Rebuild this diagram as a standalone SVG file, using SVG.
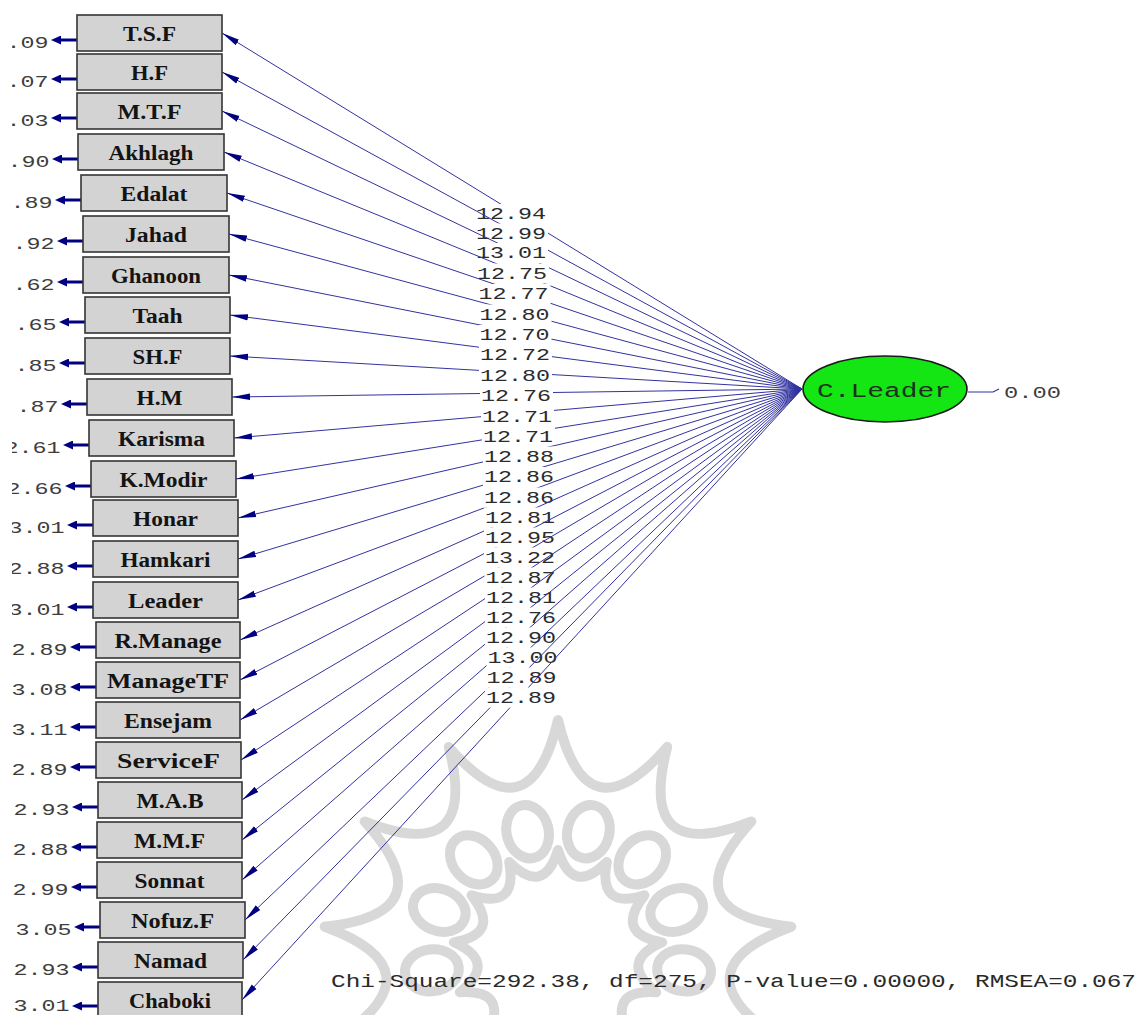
<svg xmlns="http://www.w3.org/2000/svg" width="1139" height="1015" viewBox="0 0 1139 1015">
<style>
.box{fill:#d3d3d3;stroke:#353535;stroke-width:1.6}
.bt{font-family:"Liberation Serif",serif;font-weight:bold;font-size:20px;fill:#141414;text-anchor:middle}
.pl{stroke:#3232a0;stroke-width:1;fill:none}
.lb{fill:#ffffff}
.num{font-family:"Liberation Mono",monospace;font-size:16px;fill:#2c2c2c}
.en{font-family:"Liberation Mono",monospace;font-size:16px;fill:#3e3e3e}
.ea{stroke:#000080;stroke-width:3}
.wm{fill:none;stroke:#d8d8d8;stroke-width:10;stroke-linejoin:round}
</style>
<defs>
<marker id="ah" markerUnits="userSpaceOnUse" markerWidth="18" markerHeight="8" refX="18" refY="4" orient="auto"><path d="M0,0.8 L18,4 L0,7.2 z" fill="#000080"/></marker>
<marker id="eh" markerUnits="userSpaceOnUse" markerWidth="10" markerHeight="9" refX="5" refY="4.5" orient="auto"><path d="M0,0 L10,4.5 L0,9 z" fill="#000080"/></marker>
<clipPath id="lc"><rect x="12" y="0" width="300" height="1015"/></clipPath>
</defs>
<rect width="1139" height="1015" fill="#ffffff"/>
<g id="watermark">
<path class="wm" d="M777.7,1038.3 Q675.1,969.2 791.3,926.7 Q668.3,913.2 751.4,821.5 Q636.2,866.7 667.2,746.9 Q586.3,840.4 558,720 Q529.7,840.4 448.8,746.9 Q479.8,866.7 364.6,821.5 Q447.7,913.2 324.7,926.7 Q440.9,969.2 338.3,1038.3"/>
<path class="wm" d="M558,850 Q543.6,896.7 509.2,862 Q518.2,910.1 471.6,895.3 Q501.9,933.7 453.8,942.3 Q498.4,962.2 459.8,992.2 Q508.6,989.1 488.4,1033.6 Q530.1,1008.1 532.9,1056.9 Q558,1015 583.1,1056.9 Q585.9,1008.1 627.6,1033.6 Q607.4,989.1 656.2,992.2 Q617.6,962.2 662.2,942.3 Q614.1,933.7 644.4,895.3 Q597.8,910.1 606.8,862 Q572.4,896.7 558,850 Z"/>
<ellipse class="wm" rx="21" ry="27" transform="translate(588.4,831.7) rotate(13.85)"/>
<ellipse class="wm" rx="21" ry="27" transform="translate(527.6,831.7) rotate(-13.85)"/>
<ellipse class="wm" rx="21" ry="27" transform="translate(642.2,859.9) rotate(41.54)"/>
<ellipse class="wm" rx="21" ry="27" transform="translate(473.8,859.9) rotate(-41.54)"/>
<ellipse class="wm" rx="21" ry="27" transform="translate(676.7,910) rotate(69.23)"/>
<ellipse class="wm" rx="21" ry="27" transform="translate(439.3,910) rotate(-69.23)"/>
<ellipse class="wm" rx="21" ry="27" transform="translate(684.1,970.3) rotate(96.92)"/>
<ellipse class="wm" rx="21" ry="27" transform="translate(431.9,970.3) rotate(-96.92)"/>
</g>
<g id="connectors">
<g id="e1"><line class="pl" x1="802" y1="389" x2="222" y2="33" marker-end="url(#ah)"/><rect class="lb" x="475" y="204" width="73" height="20"/><text class="num" x="476" y="219" textLength="70" lengthAdjust="spacingAndGlyphs">12.94</text></g>
<g id="e2"><line class="pl" x1="802" y1="389" x2="222" y2="72" marker-end="url(#ah)"/><rect class="lb" x="475" y="223.5" width="73" height="20"/><text class="num" x="476" y="238.5" textLength="70" lengthAdjust="spacingAndGlyphs">12.99</text></g>
<g id="e3"><line class="pl" x1="802" y1="389" x2="222" y2="111" marker-end="url(#ah)"/><rect class="lb" x="475" y="243" width="73" height="20"/><text class="num" x="476" y="258" textLength="70" lengthAdjust="spacingAndGlyphs">13.01</text></g>
<g id="e4"><line class="pl" x1="802" y1="389" x2="224" y2="152" marker-end="url(#ah)"/><rect class="lb" x="476" y="263.5" width="73" height="20"/><text class="num" x="477" y="278.5" textLength="70" lengthAdjust="spacingAndGlyphs">12.75</text></g>
<g id="e5"><line class="pl" x1="802" y1="389" x2="227" y2="193" marker-end="url(#ah)"/><rect class="lb" x="477.5" y="284" width="73" height="20"/><text class="num" x="478.5" y="299" textLength="70" lengthAdjust="spacingAndGlyphs">12.77</text></g>
<g id="e6"><line class="pl" x1="802" y1="389" x2="229" y2="234" marker-end="url(#ah)"/><rect class="lb" x="478.5" y="304.5" width="73" height="20"/><text class="num" x="479.5" y="319.5" textLength="70" lengthAdjust="spacingAndGlyphs">12.80</text></g>
<g id="e7"><line class="pl" x1="802" y1="389" x2="229" y2="275" marker-end="url(#ah)"/><rect class="lb" x="478.5" y="325" width="73" height="20"/><text class="num" x="479.5" y="340" textLength="70" lengthAdjust="spacingAndGlyphs">12.70</text></g>
<g id="e8"><line class="pl" x1="802" y1="389" x2="230" y2="315" marker-end="url(#ah)"/><rect class="lb" x="479" y="345" width="73" height="20"/><text class="num" x="480" y="360" textLength="70" lengthAdjust="spacingAndGlyphs">12.72</text></g>
<g id="e9"><line class="pl" x1="802" y1="389" x2="230" y2="356" marker-end="url(#ah)"/><rect class="lb" x="479" y="365.5" width="73" height="20"/><text class="num" x="480" y="380.5" textLength="70" lengthAdjust="spacingAndGlyphs">12.80</text></g>
<g id="e10"><line class="pl" x1="802" y1="389" x2="232" y2="397" marker-end="url(#ah)"/><rect class="lb" x="480" y="386" width="73" height="20"/><text class="num" x="481" y="401" textLength="70" lengthAdjust="spacingAndGlyphs">12.76</text></g>
<g id="e11"><line class="pl" x1="802" y1="389" x2="234" y2="438" marker-end="url(#ah)"/><rect class="lb" x="481" y="406.5" width="73" height="20"/><text class="num" x="482" y="421.5" textLength="70" lengthAdjust="spacingAndGlyphs">12.71</text></g>
<g id="e12"><line class="pl" x1="802" y1="389" x2="236" y2="479" marker-end="url(#ah)"/><rect class="lb" x="482" y="427" width="73" height="20"/><text class="num" x="483" y="442" textLength="70" lengthAdjust="spacingAndGlyphs">12.71</text></g>
<g id="e13"><line class="pl" x1="802" y1="389" x2="238" y2="518" marker-end="url(#ah)"/><rect class="lb" x="483" y="446.5" width="73" height="20"/><text class="num" x="484" y="461.5" textLength="70" lengthAdjust="spacingAndGlyphs">12.88</text></g>
<g id="e14"><line class="pl" x1="802" y1="389" x2="238" y2="559" marker-end="url(#ah)"/><rect class="lb" x="483" y="467" width="73" height="20"/><text class="num" x="484" y="482" textLength="70" lengthAdjust="spacingAndGlyphs">12.86</text></g>
<g id="e15"><line class="pl" x1="802" y1="389" x2="238" y2="600" marker-end="url(#ah)"/><rect class="lb" x="483" y="487.5" width="73" height="20"/><text class="num" x="484" y="502.5" textLength="70" lengthAdjust="spacingAndGlyphs">12.86</text></g>
<g id="e16"><line class="pl" x1="802" y1="389" x2="240" y2="640" marker-end="url(#ah)"/><rect class="lb" x="484" y="507.5" width="73" height="20"/><text class="num" x="485" y="522.5" textLength="70" lengthAdjust="spacingAndGlyphs">12.81</text></g>
<g id="e17"><line class="pl" x1="802" y1="389" x2="240" y2="680" marker-end="url(#ah)"/><rect class="lb" x="484" y="527.5" width="73" height="20"/><text class="num" x="485" y="542.5" textLength="70" lengthAdjust="spacingAndGlyphs">12.95</text></g>
<g id="e18"><line class="pl" x1="802" y1="389" x2="240" y2="720" marker-end="url(#ah)"/><rect class="lb" x="484" y="547.5" width="73" height="20"/><text class="num" x="485" y="562.5" textLength="70" lengthAdjust="spacingAndGlyphs">13.22</text></g>
<g id="e19"><line class="pl" x1="802" y1="389" x2="241" y2="760" marker-end="url(#ah)"/><rect class="lb" x="484.5" y="567.5" width="73" height="20"/><text class="num" x="485.5" y="582.5" textLength="70" lengthAdjust="spacingAndGlyphs">12.87</text></g>
<g id="e20"><line class="pl" x1="802" y1="389" x2="242" y2="800" marker-end="url(#ah)"/><rect class="lb" x="485" y="587.5" width="73" height="20"/><text class="num" x="486" y="602.5" textLength="70" lengthAdjust="spacingAndGlyphs">12.81</text></g>
<g id="e21"><line class="pl" x1="802" y1="389" x2="242" y2="840" marker-end="url(#ah)"/><rect class="lb" x="485" y="607.5" width="73" height="20"/><text class="num" x="486" y="622.5" textLength="70" lengthAdjust="spacingAndGlyphs">12.76</text></g>
<g id="e22"><line class="pl" x1="802" y1="389" x2="242" y2="880" marker-end="url(#ah)"/><rect class="lb" x="485" y="627.5" width="73" height="20"/><text class="num" x="486" y="642.5" textLength="70" lengthAdjust="spacingAndGlyphs">12.90</text></g>
<g id="e23"><line class="pl" x1="802" y1="389" x2="245" y2="920" marker-end="url(#ah)"/><rect class="lb" x="486.5" y="647.5" width="73" height="20"/><text class="num" x="487.5" y="662.5" textLength="70" lengthAdjust="spacingAndGlyphs">13.00</text></g>
<g id="e24"><line class="pl" x1="802" y1="389" x2="243" y2="960" marker-end="url(#ah)"/><rect class="lb" x="485.5" y="667.5" width="73" height="20"/><text class="num" x="486.5" y="682.5" textLength="70" lengthAdjust="spacingAndGlyphs">12.89</text></g>
<g id="e25"><line class="pl" x1="802" y1="389" x2="242" y2="1000" marker-end="url(#ah)"/><rect class="lb" x="485" y="687.5" width="73" height="20"/><text class="num" x="486" y="702.5" textLength="70" lengthAdjust="spacingAndGlyphs">12.89</text></g>
<g id="errors" clip-path="url(#lc)">
<line class="ea" x1="77" y1="40" x2="56" y2="40" marker-end="url(#eh)"/><text class="en" x="6.5" y="47.5" textLength="42" lengthAdjust="spacingAndGlyphs">.09</text>
<line class="ea" x1="77" y1="79" x2="56" y2="79" marker-end="url(#eh)"/><text class="en" x="6.5" y="86.5" textLength="42" lengthAdjust="spacingAndGlyphs">.07</text>
<line class="ea" x1="77" y1="118" x2="56" y2="118" marker-end="url(#eh)"/><text class="en" x="6.5" y="125.5" textLength="42" lengthAdjust="spacingAndGlyphs">.03</text>
<line class="ea" x1="78" y1="159" x2="57" y2="159" marker-end="url(#eh)"/><text class="en" x="7.5" y="166.5" textLength="42" lengthAdjust="spacingAndGlyphs">.90</text>
<line class="ea" x1="81" y1="200" x2="60" y2="200" marker-end="url(#eh)"/><text class="en" x="10.5" y="207.5" textLength="42" lengthAdjust="spacingAndGlyphs">.89</text>
<line class="ea" x1="83" y1="241" x2="62" y2="241" marker-end="url(#eh)"/><text class="en" x="12.5" y="248.5" textLength="42" lengthAdjust="spacingAndGlyphs">.92</text>
<line class="ea" x1="83" y1="282" x2="62" y2="282" marker-end="url(#eh)"/><text class="en" x="12.5" y="289.5" textLength="42" lengthAdjust="spacingAndGlyphs">.62</text>
<line class="ea" x1="85" y1="322" x2="64" y2="322" marker-end="url(#eh)"/><text class="en" x="14.5" y="329.5" textLength="42" lengthAdjust="spacingAndGlyphs">.65</text>
<line class="ea" x1="85" y1="363" x2="64" y2="363" marker-end="url(#eh)"/><text class="en" x="14.5" y="370.5" textLength="42" lengthAdjust="spacingAndGlyphs">.85</text>
<line class="ea" x1="87" y1="404" x2="66" y2="404" marker-end="url(#eh)"/><text class="en" x="16.5" y="411.5" textLength="42" lengthAdjust="spacingAndGlyphs">.87</text>
<line class="ea" x1="89" y1="445" x2="68" y2="445" marker-end="url(#eh)"/><text class="en" x="4.5" y="452.5" textLength="56" lengthAdjust="spacingAndGlyphs">2.61</text>
<line class="ea" x1="91" y1="486" x2="70" y2="486" marker-end="url(#eh)"/><text class="en" x="6.5" y="493.5" textLength="56" lengthAdjust="spacingAndGlyphs">2.66</text>
<line class="ea" x1="93" y1="525" x2="72" y2="525" marker-end="url(#eh)"/><text class="en" x="8.5" y="532.5" textLength="56" lengthAdjust="spacingAndGlyphs">3.01</text>
<line class="ea" x1="93" y1="566" x2="72" y2="566" marker-end="url(#eh)"/><text class="en" x="8.5" y="573.5" textLength="56" lengthAdjust="spacingAndGlyphs">2.88</text>
<line class="ea" x1="93" y1="607" x2="72" y2="607" marker-end="url(#eh)"/><text class="en" x="8.5" y="614.5" textLength="56" lengthAdjust="spacingAndGlyphs">3.01</text>
<line class="ea" x1="96" y1="647" x2="75" y2="647" marker-end="url(#eh)"/><text class="en" x="11.5" y="654.5" textLength="56" lengthAdjust="spacingAndGlyphs">2.89</text>
<line class="ea" x1="96" y1="687" x2="75" y2="687" marker-end="url(#eh)"/><text class="en" x="11.5" y="694.5" textLength="56" lengthAdjust="spacingAndGlyphs">3.08</text>
<line class="ea" x1="96" y1="727" x2="75" y2="727" marker-end="url(#eh)"/><text class="en" x="11.5" y="734.5" textLength="56" lengthAdjust="spacingAndGlyphs">3.11</text>
<line class="ea" x1="96" y1="767" x2="75" y2="767" marker-end="url(#eh)"/><text class="en" x="11.5" y="774.5" textLength="56" lengthAdjust="spacingAndGlyphs">2.89</text>
<line class="ea" x1="98" y1="807" x2="77" y2="807" marker-end="url(#eh)"/><text class="en" x="13.5" y="814.5" textLength="56" lengthAdjust="spacingAndGlyphs">2.93</text>
<line class="ea" x1="97" y1="847" x2="76" y2="847" marker-end="url(#eh)"/><text class="en" x="12.5" y="854.5" textLength="56" lengthAdjust="spacingAndGlyphs">2.88</text>
<line class="ea" x1="97" y1="887" x2="76" y2="887" marker-end="url(#eh)"/><text class="en" x="12.5" y="894.5" textLength="56" lengthAdjust="spacingAndGlyphs">2.99</text>
<line class="ea" x1="100" y1="927" x2="79" y2="927" marker-end="url(#eh)"/><text class="en" x="15.5" y="934.5" textLength="56" lengthAdjust="spacingAndGlyphs">3.05</text>
<line class="ea" x1="98" y1="967" x2="77" y2="967" marker-end="url(#eh)"/><text class="en" x="13.5" y="974.5" textLength="56" lengthAdjust="spacingAndGlyphs">2.93</text>
<line class="ea" x1="98" y1="1006" x2="77" y2="1006" marker-end="url(#eh)"/><text class="en" x="13.5" y="1011" textLength="56" lengthAdjust="spacingAndGlyphs">3.01</text>
</g>
<path d="M968,392 H993 L999,389" fill="none" stroke="#3232a0" stroke-width="1.2"/>
<text class="en" x="1004" y="398" textLength="57" lengthAdjust="spacingAndGlyphs">0.00</text>
</g>
<g id="n1"><rect class="box" x="77" y="15" width="145" height="36"/><text class="bt" x="149.5" y="41" textLength="53" lengthAdjust="spacingAndGlyphs">T.S.F</text></g>
<g id="n2"><rect class="box" x="77" y="54" width="145" height="36"/><text class="bt" x="149.5" y="80" textLength="37" lengthAdjust="spacingAndGlyphs">H.F</text></g>
<g id="n3"><rect class="box" x="77" y="93" width="145" height="36"/><text class="bt" x="149.5" y="119" textLength="64" lengthAdjust="spacingAndGlyphs">M.T.F</text></g>
<g id="n4"><rect class="box" x="78" y="134" width="146" height="36"/><text class="bt" x="151" y="160" textLength="85" lengthAdjust="spacingAndGlyphs">Akhlagh</text></g>
<g id="n5"><rect class="box" x="81" y="175" width="146" height="36"/><text class="bt" x="154" y="201" textLength="67" lengthAdjust="spacingAndGlyphs">Edalat</text></g>
<g id="n6"><rect class="box" x="83" y="216" width="146" height="36"/><text class="bt" x="156" y="242" textLength="62" lengthAdjust="spacingAndGlyphs">Jahad</text></g>
<g id="n7"><rect class="box" x="83" y="257" width="146" height="36"/><text class="bt" x="156" y="283" textLength="90" lengthAdjust="spacingAndGlyphs">Ghanoon</text></g>
<g id="n8"><rect class="box" x="85" y="297" width="145" height="36"/><text class="bt" x="157.5" y="323" textLength="50" lengthAdjust="spacingAndGlyphs">Taah</text></g>
<g id="n9"><rect class="box" x="85" y="338" width="145" height="36"/><text class="bt" x="157.5" y="364" textLength="50" lengthAdjust="spacingAndGlyphs">SH.F</text></g>
<g id="n10"><rect class="box" x="87" y="379" width="145" height="36"/><text class="bt" x="159.5" y="405" textLength="46" lengthAdjust="spacingAndGlyphs">H.M</text></g>
<g id="n11"><rect class="box" x="89" y="420" width="145" height="36"/><text class="bt" x="161.5" y="446" textLength="87" lengthAdjust="spacingAndGlyphs">Karisma</text></g>
<g id="n12"><rect class="box" x="91" y="461" width="145" height="36"/><text class="bt" x="163.5" y="487" textLength="88" lengthAdjust="spacingAndGlyphs">K.Modir</text></g>
<g id="n13"><rect class="box" x="93" y="500" width="145" height="36"/><text class="bt" x="165.5" y="526" textLength="65" lengthAdjust="spacingAndGlyphs">Honar</text></g>
<g id="n14"><rect class="box" x="93" y="541" width="145" height="36"/><text class="bt" x="165.5" y="567" textLength="90" lengthAdjust="spacingAndGlyphs">Hamkari</text></g>
<g id="n15"><rect class="box" x="93" y="582" width="145" height="36"/><text class="bt" x="165.5" y="608" textLength="75" lengthAdjust="spacingAndGlyphs">Leader</text></g>
<g id="n16"><rect class="box" x="96" y="622" width="144" height="36"/><text class="bt" x="168" y="648" textLength="107" lengthAdjust="spacingAndGlyphs">R.Manage</text></g>
<g id="n17"><rect class="box" x="96" y="662" width="144" height="36"/><text class="bt" x="168" y="688" textLength="122" lengthAdjust="spacingAndGlyphs">ManageTF</text></g>
<g id="n18"><rect class="box" x="96" y="702" width="144" height="36"/><text class="bt" x="168" y="728" textLength="88" lengthAdjust="spacingAndGlyphs">Ensejam</text></g>
<g id="n19"><rect class="box" x="96" y="742" width="145" height="36"/><text class="bt" x="168.5" y="768" textLength="103" lengthAdjust="spacingAndGlyphs">ServiceF</text></g>
<g id="n20"><rect class="box" x="98" y="782" width="144" height="36"/><text class="bt" x="170" y="808" textLength="67" lengthAdjust="spacingAndGlyphs">M.A.B</text></g>
<g id="n21"><rect class="box" x="97" y="822" width="145" height="36"/><text class="bt" x="169.5" y="848" textLength="71" lengthAdjust="spacingAndGlyphs">M.M.F</text></g>
<g id="n22"><rect class="box" x="97" y="862" width="145" height="36"/><text class="bt" x="169.5" y="888" textLength="70" lengthAdjust="spacingAndGlyphs">Sonnat</text></g>
<g id="n23"><rect class="box" x="100" y="902" width="145" height="36"/><text class="bt" x="172.5" y="928" textLength="83" lengthAdjust="spacingAndGlyphs">Nofuz.F</text></g>
<g id="n24"><rect class="box" x="98" y="942" width="145" height="36"/><text class="bt" x="170.5" y="968" textLength="73" lengthAdjust="spacingAndGlyphs">Namad</text></g>
<g id="n25"><rect class="box" x="98" y="982" width="144" height="36"/><text class="bt" x="170" y="1008" textLength="82" lengthAdjust="spacingAndGlyphs">Chaboki</text></g>
<g id="cleader"><ellipse cx="885" cy="389" rx="82" ry="33" fill="#14e614" stroke="#1a1a1a" stroke-width="1.6"/><text x="817" y="396.5" textLength="134" lengthAdjust="spacingAndGlyphs" style="font-family:'Liberation Mono',monospace;font-size:20px;fill:#1e301e">C.Leader</text></g>
<text x="331" y="987" textLength="805" lengthAdjust="spacingAndGlyphs" style="font-family:'Liberation Mono',monospace;font-size:19px;fill:#2a2a2a">Chi-Square=292.38, df=275, P-value=0.00000, RMSEA=0.067</text>
</svg>
